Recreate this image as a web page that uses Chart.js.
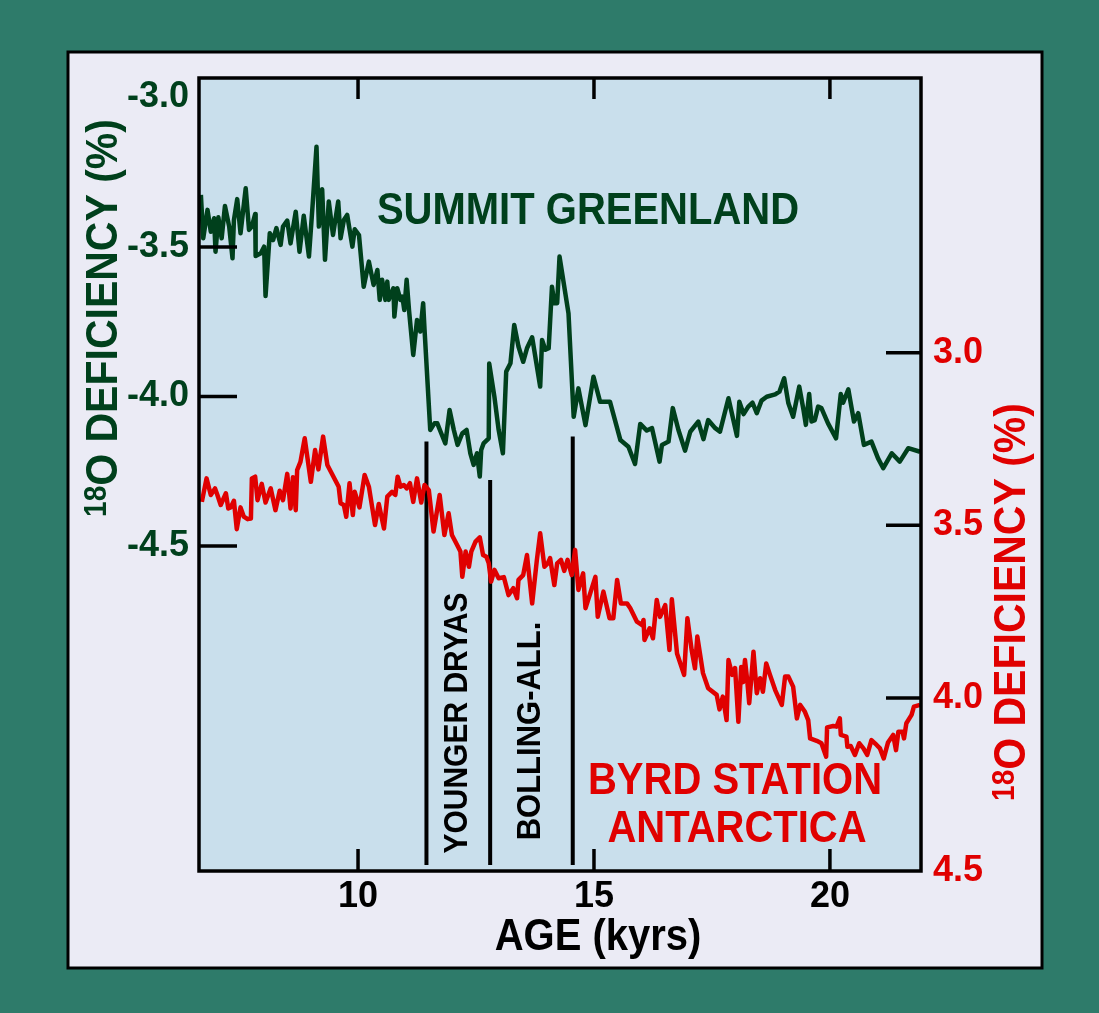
<!DOCTYPE html>
<html>
<head>
<meta charset="utf-8">
<script src="https://cdn.jsdelivr.net/npm/chart.js@4.4.1/dist/chart.umd.min.js"></script>
<style>
  html, body { margin: 0; padding: 0; background: #2e7b6a; }
  canvas { display: block; }
</style>
</head>
<body>
<canvas id="iceChart" width="1099" height="1013"></canvas>
<script>
// Ice core oxygen isotope records, Summit Greenland vs Byrd Station Antarctica

const FONT = '"Liberation Sans", Arial, Helvetica, sans-serif';
const GREEN = '#00401c';
const RED = '#e00000';

// Age axis (kyrs)
const ageTicks = [10, 15, 20];

// Left axis (Greenland) and right axis (Antarctica) tick labels
const leftTicks = [-3.0, -3.5, -4.0, -4.5];
const leftMarks = [-3.5, -4.0, -4.5];
const rightTicks = [3.0, 3.5, 4.0, 4.5];
const rightMarks = [3.0, 3.5, 4.0];

// Summit Greenland record
const greenAge = [
  6.67, 6.72, 6.81, 6.88, 6.95, 6.98, 7.04, 7.11, 7.18, 7.27,
  7.34, 7.37, 7.44, 7.51, 7.62, 7.69, 7.75, 7.82, 7.83, 7.94,
  8.01, 8.04, 8.13, 8.20, 8.27, 8.36, 8.41, 8.50, 8.57, 8.68,
  8.76, 8.85, 8.96, 9.04, 9.12, 9.17, 9.24, 9.30, 9.38, 9.47,
  9.58, 9.63, 9.70, 9.77, 9.88, 9.93, 10.02, 10.12, 10.23, 10.33,
  10.41, 10.46, 10.51, 10.58, 10.62, 10.65, 10.75, 10.77, 10.83, 10.90,
  10.94, 10.98, 11.03, 11.08, 11.17, 11.25, 11.32, 11.38, 11.41, 11.53,
  11.62, 11.68, 11.75, 11.85, 11.94, 12.03, 12.11, 12.21, 12.30, 12.38,
  12.45, 12.52, 12.58, 12.61, 12.66, 12.77, 12.78, 12.89, 12.98, 13.07,
  13.14, 13.23, 13.31, 13.40, 13.50, 13.58, 13.69, 13.78, 13.86, 13.90,
  13.97, 14.04, 14.11, 14.16, 14.22, 14.27, 14.46, 14.57, 14.67, 14.82,
  14.99, 15.13, 15.34, 15.56, 15.73, 15.87, 15.98, 16.12, 16.23, 16.39,
  16.44, 16.58, 16.67, 16.79, 16.93, 17.04, 17.21, 17.32, 17.42, 17.57,
  17.67, 17.85, 18.03, 18.08, 18.17, 18.27, 18.36, 18.45, 18.55, 18.66,
  18.84, 18.93, 19.03, 19.12, 19.22, 19.35, 19.44, 19.49, 19.56, 19.61,
  19.68, 19.75, 19.82, 19.96, 20.13, 20.23, 20.28, 20.39, 20.51, 20.60,
  20.72, 20.88, 21.02, 21.13, 21.31, 21.48, 21.66, 21.91
];
const greenO18 = [
  -3.326, -3.471, -3.376, -3.449, -3.404, -3.516, -3.401, -3.471, -3.363, -3.432,
  -3.538, -3.410, -3.340, -3.454, -3.304, -3.443, -3.432, -3.390, -3.530, -3.521,
  -3.499, -3.664, -3.454, -3.477, -3.437, -3.493, -3.432, -3.412, -3.488, -3.382,
  -3.516, -3.396, -3.532, -3.354, -3.165, -3.432, -3.307, -3.543, -3.348, -3.460,
  -3.348, -3.471, -3.410, -3.393, -3.499, -3.441, -3.460, -3.633, -3.549, -3.627,
  -3.577, -3.677, -3.610, -3.677, -3.616, -3.677, -3.638, -3.733, -3.638, -3.677,
  -3.666, -3.711, -3.610, -3.711, -3.861, -3.744, -3.783, -3.688, -3.778, -4.112,
  -4.090, -4.090, -4.118, -4.157, -4.045, -4.112, -4.162, -4.123, -4.112, -4.190,
  -4.229, -4.190, -4.268, -4.179, -4.157, -4.140, -3.890, -4.001, -4.112, -4.190,
  -3.917, -3.889, -3.761, -3.833, -3.884, -3.839, -3.802, -3.889, -3.967, -3.811,
  -3.844, -3.839, -3.633, -3.688, -3.688, -3.532, -3.722, -4.068, -3.973, -4.096,
  -3.934, -4.018, -4.018, -4.146, -4.168, -4.226, -4.092, -4.114, -4.106, -4.218,
  -4.162, -4.151, -4.039, -4.112, -4.181, -4.118, -4.084, -4.143, -4.079, -4.106,
  -4.118, -4.006, -4.132, -4.018, -4.059, -4.034, -4.021, -4.056, -4.014, -4.001,
  -3.993, -3.984, -3.939, -4.023, -4.068, -3.967, -4.045, -4.095, -3.992, -4.084,
  -4.079, -4.034, -4.039, -4.090, -4.140, -3.992, -4.021, -3.976, -4.084, -4.056,
  -4.162, -4.151, -4.207, -4.240, -4.190, -4.218, -4.173, -4.185
];

// Byrd Station Antarctica record
const redAge = [
  6.69, 6.79, 6.88, 6.97, 7.02, 7.09, 7.20, 7.25, 7.30, 7.37,
  7.43, 7.51, 7.58, 7.66, 7.73, 7.75, 7.82, 7.87, 7.96, 8.04,
  8.15, 8.25, 8.34, 8.41, 8.50, 8.57, 8.62, 8.68, 8.71, 8.78,
  8.87, 9.00, 9.09, 9.16, 9.26, 9.35, 9.59, 9.63, 9.70, 9.75,
  9.82, 9.89, 9.93, 10.03, 10.14, 10.23, 10.36, 10.44, 10.55, 10.62,
  10.72, 10.79, 10.84, 10.90, 10.97, 11.03, 11.10, 11.17, 11.25, 11.34,
  11.41, 11.50, 11.60, 11.73, 11.83, 11.92, 11.99, 12.10, 12.17, 12.21,
  12.28, 12.35, 12.40, 12.49, 12.58, 12.65, 12.72, 12.77, 12.82, 12.89,
  12.98, 13.09, 13.19, 13.29, 13.37, 13.40, 13.50, 13.58, 13.69, 13.79,
  13.86, 13.95, 14.02, 14.07, 14.16, 14.22, 14.30, 14.37, 14.44, 14.53,
  14.60, 14.67, 14.77, 14.82, 14.92, 15.03, 15.08, 15.20, 15.33, 15.41,
  15.49, 15.57, 15.70, 15.77, 15.91, 16.02, 16.05, 16.07, 16.18, 16.25,
  16.33, 16.40, 16.51, 16.60, 16.65, 16.76, 16.91, 16.98, 17.07, 17.14,
  17.19, 17.31, 17.42, 17.60, 17.66, 17.73, 17.81, 17.85, 17.93, 17.99,
  18.06, 18.12, 18.16, 18.20, 18.25, 18.29, 18.38, 18.45, 18.52, 18.58,
  18.65, 18.73, 18.84, 18.98, 19.05, 19.12, 19.22, 19.30, 19.37, 19.47,
  19.54, 19.58, 19.72, 19.82, 19.92, 19.94, 20.07, 20.14, 20.21, 20.23,
  20.35, 20.37, 20.44, 20.53, 20.62, 20.71, 20.79, 20.88, 20.99, 21.06,
  21.14, 21.23, 21.34, 21.40, 21.45, 21.54, 21.57, 21.62, 21.73, 21.78,
  21.91
];
const redO18 = [
  3.432, 3.364, 3.412, 3.393, 3.412, 3.441, 3.407, 3.451, 3.448, 3.429,
  3.511, 3.448, 3.475, 3.482, 3.480, 3.364, 3.359, 3.427, 3.380, 3.434,
  3.393, 3.456, 3.400, 3.427, 3.351, 3.451, 3.361, 3.456, 3.340, 3.316,
  3.248, 3.374, 3.282, 3.338, 3.243, 3.325, 3.388, 3.436, 3.441, 3.475,
  3.378, 3.470, 3.403, 3.448, 3.354, 3.388, 3.499, 3.438, 3.509, 3.417,
  3.403, 3.412, 3.359, 3.388, 3.383, 3.393, 3.378, 3.432, 3.364, 3.434,
  3.383, 3.398, 3.518, 3.412, 3.528, 3.465, 3.528, 3.557, 3.576, 3.649,
  3.576, 3.620, 3.576, 3.547, 3.535, 3.586, 3.591, 3.610, 3.663, 3.629,
  3.653, 3.650, 3.702, 3.682, 3.711, 3.658, 3.644, 3.586, 3.726, 3.600,
  3.523, 3.620, 3.610, 3.595, 3.673, 3.610, 3.600, 3.632, 3.600, 3.644,
  3.571, 3.687, 3.639, 3.740, 3.697, 3.649, 3.765, 3.692, 3.769, 3.769,
  3.658, 3.726, 3.726, 3.740, 3.779, 3.789, 3.774, 3.832, 3.798, 3.827,
  3.716, 3.765, 3.731, 3.861, 3.714, 3.871, 3.933, 3.769, 3.861, 3.914,
  3.822, 3.928, 3.972, 3.991, 4.033, 3.996, 4.064, 3.890, 3.933, 3.913,
  4.069, 3.910, 3.954, 3.890, 3.953, 4.015, 3.866, 3.986, 3.943, 3.982,
  3.900, 3.933, 3.977, 4.020, 3.938, 3.938, 3.967, 4.059, 4.020, 4.040,
  4.064, 4.117, 4.124, 4.131, 4.170, 4.085, 4.081, 4.083, 4.059, 4.107,
  4.112, 4.141, 4.139, 4.165, 4.131, 4.146, 4.165, 4.122, 4.136, 4.146,
  4.175, 4.129, 4.107, 4.151, 4.098, 4.098, 4.117, 4.073, 4.049, 4.025,
  4.020
];

// Climate period boundaries (Younger Dryas, Bolling-Allerod)
const periodAges = [11.45, 12.80, 14.55];
const periodTops = [-4.151, -4.279, -4.134];
const periodBase = -5.567;

function toPoints(xs, ys) {
  return xs.map((x, i) => ({ x: x, y: ys[i] }));
}

/**
 * Draw a line segment
 */
function line(ctx, x1, y1, x2, y2) {
  ctx.beginPath();
  ctx.moveTo(x1, y1);
  ctx.lineTo(x2, y2);
  ctx.stroke();
}

// The original lettering is a little taller than the font's proportions
const STRETCH = 1.1;

/**
 * Text drawn with a slight vertical stretch, optionally rotated
 */
function drawText(ctx, text, x, y, font, color, rotate) {
  ctx.save();
  ctx.translate(x, y);
  if (rotate) ctx.rotate(-Math.PI / 2);
  ctx.scale(1, STRETCH);
  ctx.font = font;
  ctx.fillStyle = color;
  ctx.textAlign = 'center';
  ctx.textBaseline = 'middle';
  ctx.fillText(text, 0, 0);
  ctx.restore();
}

/**
 * Rotated axis title with superscript "18"
 */
function drawIsoTitle(ctx, cx, cy, color) {
  const supFont = 'bold 28px ' + FONT;
  const mainFont = 'bold 41px ' + FONT;
  const sup = '18';
  const main = 'O DEFICIENCY (%)';
  ctx.save();
  ctx.translate(cx, cy);
  ctx.rotate(-Math.PI / 2);
  ctx.scale(1, STRETCH);
  ctx.fillStyle = color;
  ctx.textBaseline = 'alphabetic';
  ctx.textAlign = 'left';
  ctx.font = supFont;
  const w1 = ctx.measureText(sup).width;
  ctx.font = mainFont;
  const w2 = ctx.measureText(main).width;
  const start = -(w1 + w2) / 2;
  const base = 14;
  ctx.font = supFont;
  ctx.fillText(sup, start, base - 10);
  ctx.font = mainFont;
  ctx.fillText(main, start + w1, base);
  ctx.restore();
}

const figurePlugin = {
  id: 'figure',
  beforeDraw(chart) {
    const { ctx, chartArea: a } = chart;
    ctx.save();
    ctx.fillStyle = '#2e7b6a';
    ctx.fillRect(0, 0, chart.width, chart.height);
    ctx.fillStyle = '#ebebf5';
    ctx.fillRect(68, 52, 974, 916);
    ctx.strokeStyle = '#000';
    ctx.lineWidth = 3;
    ctx.strokeRect(68, 52, 974, 916);
    ctx.fillStyle = '#c9dfec';
    ctx.fillRect(a.left, a.top, a.right - a.left, a.bottom - a.top);
    ctx.restore();
  },
  afterDraw(chart) {
    const { ctx, chartArea: a, scales } = chart;
    ctx.save();
    ctx.strokeStyle = '#000';
    ctx.lineWidth = 3.5;

    // Inward tick marks
    leftMarks.forEach(v => {
      const y = scales.yL.getPixelForValue(v);
      line(ctx, a.left, y, a.left + 38, y);
    });
    rightMarks.forEach(v => {
      const y = scales.yR.getPixelForValue(v);
      line(ctx, a.right - 35, y, a.right, y);
    });
    ageTicks.forEach(v => {
      const x = scales.x.getPixelForValue(v);
      line(ctx, x, a.bottom, x, a.bottom - 22);
      line(ctx, x, a.top, x, a.top + 21);
    });

    // Plot frame
    ctx.lineWidth = 3.5;
    ctx.strokeRect(a.left, a.top, a.right - a.left, a.bottom - a.top);

    // Labels inside the plot
    const big = 'bold 40px ' + FONT;
    drawText(ctx, 'SUMMIT GREENLAND', 588, 212, big, GREEN);
    drawText(ctx, 'BYRD STATION', 735, 782, big, RED);
    drawText(ctx, 'ANTARCTICA', 737, 830, big, RED);

    drawText(ctx, 'YOUNGER DRYAS', 458, 723, 'bold 30px ' + FONT, '#000', true);
    drawText(ctx, 'BOLLING-ALL.', 531, 731, 'bold 31px ' + FONT, '#000', true);

    // Axis titles
    drawIsoTitle(ctx, 102, 318, GREEN);
    drawIsoTitle(ctx, 1010, 602, RED);
    drawText(ctx, 'AGE (kyrs)', 598, 938, big, '#000');
    ctx.restore();
  }
};

const tickFont = { family: FONT, size: 36, weight: 'bold' };

const datasets = [
  {
    label: 'Summit Greenland',
    data: toPoints(greenAge, greenO18),
    yAxisID: 'yL',
    borderColor: GREEN,
    borderWidth: 4.5,
    borderJoinStyle: 'round',
    pointRadius: 0,
    tension: 0,
    order: 1
  },
  {
    label: 'Byrd Station Antarctica',
    data: toPoints(redAge, redO18),
    yAxisID: 'yR',
    borderColor: RED,
    borderWidth: 4.5,
    borderJoinStyle: 'round',
    pointRadius: 0,
    tension: 0,
    order: 2
  }
];
periodAges.forEach((age, i) => {
  datasets.push({
    label: 'period ' + i,
    data: [{ x: age, y: periodTops[i] }, { x: age, y: periodBase }],
    yAxisID: 'yL',
    borderColor: '#000',
    borderWidth: 4,
    pointRadius: 0,
    order: 3
  });
});

new Chart(document.getElementById('iceChart'), {
  type: 'line',
  data: { datasets: datasets },
  options: {
    responsive: false,
    animation: false,
    devicePixelRatio: 1,
    layout: { padding: { top: 78, left: 0, right: 0, bottom: 0 } },
    plugins: {
      legend: { display: false },
      tooltip: { enabled: false }
    },
    scales: {
      x: {
        type: 'linear',
        position: 'bottom',
        min: 6.63,
        max: 21.93,
        afterBuildTicks: s => { s.ticks = ageTicks.map(v => ({ value: v })); },
        afterFit: s => { s.height = 142; },
        grid: { display: false, drawTicks: false },
        border: { display: false },
        ticks: {
          font: tickFont,
          color: '#000',
          padding: 4,
          maxRotation: 0,
          autoSkip: false,
          callback: v => String(v)
        }
      },
      yL: {
        type: 'linear',
        position: 'left',
        min: -5.587,
        max: -2.935,
        afterBuildTicks: s => { s.ticks = leftTicks.map(v => ({ value: v })); },
        afterFit: s => { s.width = 199; },
        grid: { display: false, drawTicks: false },
        border: { display: false },
        ticks: {
          font: tickFont,
          color: GREEN,
          padding: 10,
          autoSkip: false,
          callback: v => v.toFixed(1)
        }
      },
      yR: {
        type: 'linear',
        position: 'right',
        reverse: true,
        min: 2.2045,
        max: 4.501,
        afterBuildTicks: s => { s.ticks = rightTicks.map(v => ({ value: v })); },
        afterFit: s => { s.width = 178; },
        grid: { display: false, drawTicks: false },
        border: { display: false },
        ticks: {
          font: tickFont,
          color: RED,
          padding: 12,
          autoSkip: false,
          callback: v => v.toFixed(1)
        }
      }
    }
  },
  plugins: [figurePlugin]
});
</script>
</body>
</html>
